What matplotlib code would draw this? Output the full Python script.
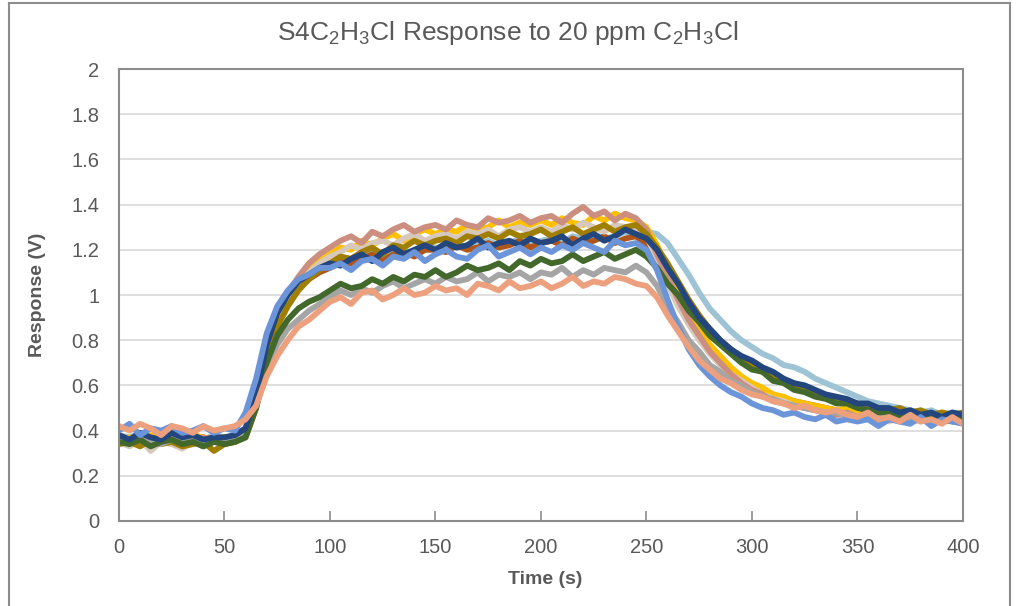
import numpy as np
import matplotlib.pyplot as plt
from matplotlib.lines import Line2D

plt.rcParams['font.family'] = ['Liberation Sans', 'DejaVu Sans']
plt.rcParams['mathtext.fontset'] = 'custom'
plt.rcParams['mathtext.rm'] = 'Liberation Sans'
plt.rcParams['mathtext.it'] = 'Liberation Sans'

# time axis, one reading every 5 s
time = np.arange(0, 405, 5)

salmon = [0.42,0.40,0.43,0.41,0.38,0.42,0.41,0.39,0.42,0.40,
          0.41,0.42,0.45,0.51,0.64,0.73,0.80,0.86,0.89,0.93,
          0.97,0.99,0.96,1.01,1.02,0.98,1.00,1.03,1.00,1.01,
          1.04,1.02,1.03,1.00,1.05,1.04,1.02,1.06,1.03,1.04,
          1.06,1.03,1.05,1.08,1.04,1.06,1.05,1.08,1.07,1.05,
          1.04,0.99,0.91,0.84,0.77,0.71,0.67,0.63,0.61,0.58,
          0.56,0.55,0.53,0.52,0.50,0.51,0.49,0.48,0.49,0.47,
          0.46,0.48,0.45,0.46,0.44,0.47,0.44,0.45,0.43,0.46,
          0.43]
cornflower = [0.40,0.43,0.38,0.41,0.40,0.42,0.39,0.40,0.42,0.39,
              0.41,0.40,0.48,0.63,0.83,0.95,1.02,1.07,1.09,1.12,
              1.12,1.14,1.11,1.15,1.16,1.13,1.17,1.16,1.19,1.15,
              1.18,1.20,1.17,1.16,1.20,1.22,1.17,1.19,1.21,1.18,
              1.21,1.19,1.22,1.20,1.23,1.21,1.19,1.24,1.22,1.23,
              1.20,1.11,0.98,0.86,0.76,0.69,0.64,0.60,0.57,0.55,
              0.52,0.50,0.49,0.47,0.48,0.46,0.45,0.47,0.44,0.45,
              0.44,0.45,0.42,0.45,0.44,0.43,0.46,0.42,0.45,0.44,
              0.43]
navy = [0.38,0.36,0.39,0.37,0.36,0.39,0.37,0.38,0.36,0.37,
        0.37,0.38,0.41,0.56,0.78,0.92,1.00,1.06,1.09,1.12,
        1.14,1.13,1.16,1.18,1.15,1.19,1.21,1.18,1.20,1.22,
        1.20,1.23,1.21,1.22,1.25,1.21,1.23,1.24,1.22,1.25,
        1.23,1.24,1.26,1.22,1.25,1.27,1.24,1.26,1.29,1.27,
        1.25,1.20,1.12,1.05,0.97,0.90,0.85,0.80,0.76,0.73,
        0.71,0.68,0.66,0.63,0.61,0.60,0.58,0.56,0.55,0.54,
        0.52,0.52,0.50,0.50,0.48,0.49,0.47,0.48,0.46,0.48,
        0.47]
green = [0.35,0.34,0.36,0.33,0.35,0.36,0.34,0.35,0.33,0.35,
         0.34,0.35,0.37,0.50,0.70,0.82,0.89,0.94,0.97,0.99,
         1.02,1.05,1.03,1.04,1.07,1.05,1.08,1.06,1.09,1.08,
         1.11,1.08,1.10,1.13,1.11,1.12,1.14,1.11,1.15,1.13,
         1.16,1.14,1.15,1.18,1.15,1.17,1.19,1.16,1.18,1.20,
         1.17,1.12,1.05,1.00,0.93,0.88,0.82,0.78,0.74,0.70,
         0.67,0.66,0.62,0.61,0.58,0.57,0.55,0.54,0.52,0.52,
         0.50,0.49,0.48,0.48,0.46,0.47,0.45,0.46,0.44,0.45,
         0.46]
gray = [0.36,0.35,0.37,0.35,0.34,0.36,0.35,0.37,0.35,0.36,
        0.36,0.37,0.39,0.50,0.68,0.78,0.85,0.89,0.93,0.96,
        0.99,1.02,1.00,1.03,1.01,1.04,1.06,1.03,1.05,1.07,
        1.05,1.08,1.06,1.07,1.10,1.06,1.09,1.08,1.10,1.07,
        1.10,1.09,1.12,1.08,1.11,1.09,1.12,1.11,1.10,1.13,
        1.10,1.04,0.95,0.88,0.80,0.75,0.69,0.66,0.62,0.60,
        0.57,0.55,0.54,0.52,0.51,0.50,0.49,0.48,0.48,0.47,
        0.46,0.47,0.45,0.46,0.44,0.45,0.46,0.43,0.45,0.44,
        0.44]
rosy = [0.37,0.35,0.38,0.36,0.34,0.37,0.38,0.36,0.37,0.35,
        0.36,0.38,0.41,0.55,0.78,0.92,1.01,1.08,1.14,1.18,
        1.21,1.24,1.26,1.23,1.28,1.26,1.29,1.31,1.28,1.30,
        1.31,1.29,1.33,1.31,1.30,1.34,1.32,1.33,1.35,1.32,
        1.34,1.35,1.32,1.36,1.39,1.35,1.37,1.33,1.36,1.34,
        1.29,1.18,1.08,0.98,0.89,0.82,0.75,0.70,0.65,0.61,
        0.58,0.56,0.53,0.52,0.51,0.50,0.49,0.48,0.47,0.48,
        0.46,0.47,0.45,0.46,0.45,0.44,0.46,0.44,0.45,0.44,
        0.45]
gold = [0.36,0.37,0.35,0.38,0.37,0.36,0.35,0.38,0.37,0.36,
        0.37,0.36,0.40,0.54,0.76,0.90,0.98,1.05,1.11,1.15,
        1.18,1.21,1.20,1.24,1.22,1.25,1.27,1.24,1.27,1.29,
        1.27,1.29,1.28,1.31,1.29,1.30,1.33,1.30,1.32,1.31,
        1.33,1.31,1.34,1.32,1.31,1.35,1.33,1.36,1.34,1.33,
        1.30,1.22,1.12,1.02,0.93,0.85,0.78,0.73,0.68,0.64,
        0.61,0.59,0.56,0.55,0.53,0.52,0.51,0.50,0.49,0.50,
        0.48,0.49,0.47,0.48,0.46,0.48,0.47,0.46,0.48,0.46,
        0.47]
beige = [0.35,0.33,0.36,0.31,0.35,0.34,0.32,0.35,0.33,0.35,
         0.34,0.35,0.38,0.52,0.74,0.88,0.97,1.04,1.10,1.14,
         1.17,1.19,1.22,1.20,1.23,1.24,1.22,1.25,1.27,1.24,
         1.26,1.27,1.25,1.28,1.27,1.29,1.26,1.29,1.30,1.28,
         1.30,1.28,1.31,1.29,1.32,1.30,1.28,1.31,1.30,1.29,
         1.26,1.16,1.05,0.95,0.87,0.80,0.74,0.69,0.65,0.62,
         0.59,0.56,0.54,0.53,0.51,0.50,0.49,0.48,0.47,0.46,
         0.46,0.45,0.47,0.44,0.46,0.45,0.44,0.46,0.44,0.45,
         0.44]
darkgold = [0.34,0.35,0.33,0.36,0.34,0.35,0.33,0.34,0.35,0.31,
            0.34,0.35,0.37,0.50,0.72,0.86,0.95,1.02,1.07,1.11,
            1.14,1.17,1.16,1.19,1.21,1.18,1.22,1.21,1.24,1.22,
            1.24,1.25,1.23,1.26,1.25,1.27,1.25,1.28,1.26,1.27,
            1.29,1.26,1.28,1.30,1.27,1.29,1.31,1.28,1.30,1.31,
            1.27,1.21,1.14,1.06,0.98,0.91,0.85,0.80,0.76,0.72,
            0.69,0.66,0.64,0.62,0.60,0.58,0.57,0.55,0.54,0.53,
            0.52,0.51,0.50,0.49,0.50,0.48,0.49,0.47,0.48,0.47,
            0.48]
lightblue = [0.38,0.37,0.39,0.36,0.38,0.37,0.39,0.38,0.36,0.38,
             0.37,0.38,0.41,0.54,0.76,0.89,0.97,1.03,1.08,1.11,
             1.13,1.16,1.15,1.17,1.19,1.16,1.19,1.20,1.18,1.21,
             1.21,1.20,1.23,1.21,1.22,1.24,1.22,1.23,1.25,1.22,
             1.24,1.25,1.23,1.26,1.25,1.27,1.25,1.26,1.28,1.26,
             1.28,1.27,1.23,1.16,1.09,1.01,0.94,0.89,0.84,0.80,
             0.77,0.74,0.72,0.69,0.68,0.66,0.63,0.61,0.59,0.57,
             0.55,0.53,0.52,0.51,0.50,0.49,0.48,0.49,0.47,0.48,
             0.47]
rust = [0.37,0.36,0.38,0.36,0.37,0.35,0.38,0.36,0.37,0.36,
        0.37,0.36,0.40,0.53,0.75,0.88,0.96,1.03,1.07,1.10,
        1.12,1.15,1.14,1.16,1.18,1.15,1.18,1.19,1.17,1.20,
        1.20,1.19,1.22,1.20,1.21,1.23,1.21,1.22,1.24,1.21,
        1.23,1.24,1.22,1.25,1.23,1.24,1.26,1.23,1.25,1.26,
        1.22,1.15,1.06,0.97,0.89,0.82,0.76,0.71,0.67,0.63,
        0.60,0.58,0.56,0.54,0.53,0.52,0.51,0.50,0.49,0.48,
        0.47,0.48,0.46,0.47,0.45,0.46,0.45,0.44,0.46,0.45,
        0.45]

# drawn in this order, last on top
series = [lightblue, rust, gold, beige, rosy, darkgold, gray, green, navy, cornflower, salmon]
colors = ['#9DC3D4', '#B0561A', '#FFC000', '#D6C9BC', '#CC8E7E', '#A07E00',
          '#A5A5A5', '#43682B', '#23467E', '#6C94D8', '#EDA07E']

text_col = '#595959'
fig = plt.figure(figsize=(10.16, 6.06), dpi=100)
ax = fig.add_axes([0.1171, 0.1403, 0.8307, 0.7458])

for s, c in zip(series, colors):
    ax.plot(time, s, color=c, lw=4.2, solid_joinstyle='round', solid_capstyle='round')

ax.set_xlim(0, 400)
ax.set_ylim(0, 2)
ax.set_xticks(range(0, 401, 50))
ax.set_yticks(np.arange(0, 2.01, 0.2))
ax.set_yticklabels(['0', '0.2', '0.4', '0.6', '0.8', '1', '1.2', '1.4', '1.6', '1.8', '2'])
ax.grid(axis='y', color='#D9D9D9', lw=1.2)
ax.set_axisbelow(True)
for sp in ax.spines.values():
    sp.set_color('#8C8C8C')
    sp.set_linewidth(1.5)
ax.tick_params(axis='x', direction='in', length=7, width=1.2, color='#8C8C8C',
               labelsize=14.5, labelcolor=text_col, pad=12)
ax.tick_params(axis='y', length=0, labelsize=14.5, labelcolor=text_col, pad=14)

fig.text(0.5, 0.9455, r'S4C$_2$H$_3$Cl Response to 20 ppm C$_2$H$_3$Cl',
         ha='center', va='center', fontsize=19, color=text_col)
fig.text(0.5365, 0.043, 'Time (s)', ha='center', va='center', fontsize=14,
         fontweight='bold', color=text_col)
fig.text(0.037, 0.5135, 'Response (V)', ha='center', va='center', rotation=90,
         fontsize=14, fontweight='bold', color=text_col)

# outer chart frame (left, top and right edges)
fig.add_artist(Line2D([8.5/1016, 8.5/1016], [0, 1 - 2.5/606], color='#8C8C8C', lw=1.5))
fig.add_artist(Line2D([8.5/1016, 1010/1016], [1 - 2.5/606, 1 - 2.5/606], color='#8C8C8C', lw=1.5))
fig.add_artist(Line2D([1010/1016, 1010/1016], [0, 1 - 2.5/606], color='#8C8C8C', lw=1.5))

plt.savefig('out.png', dpi=100)
